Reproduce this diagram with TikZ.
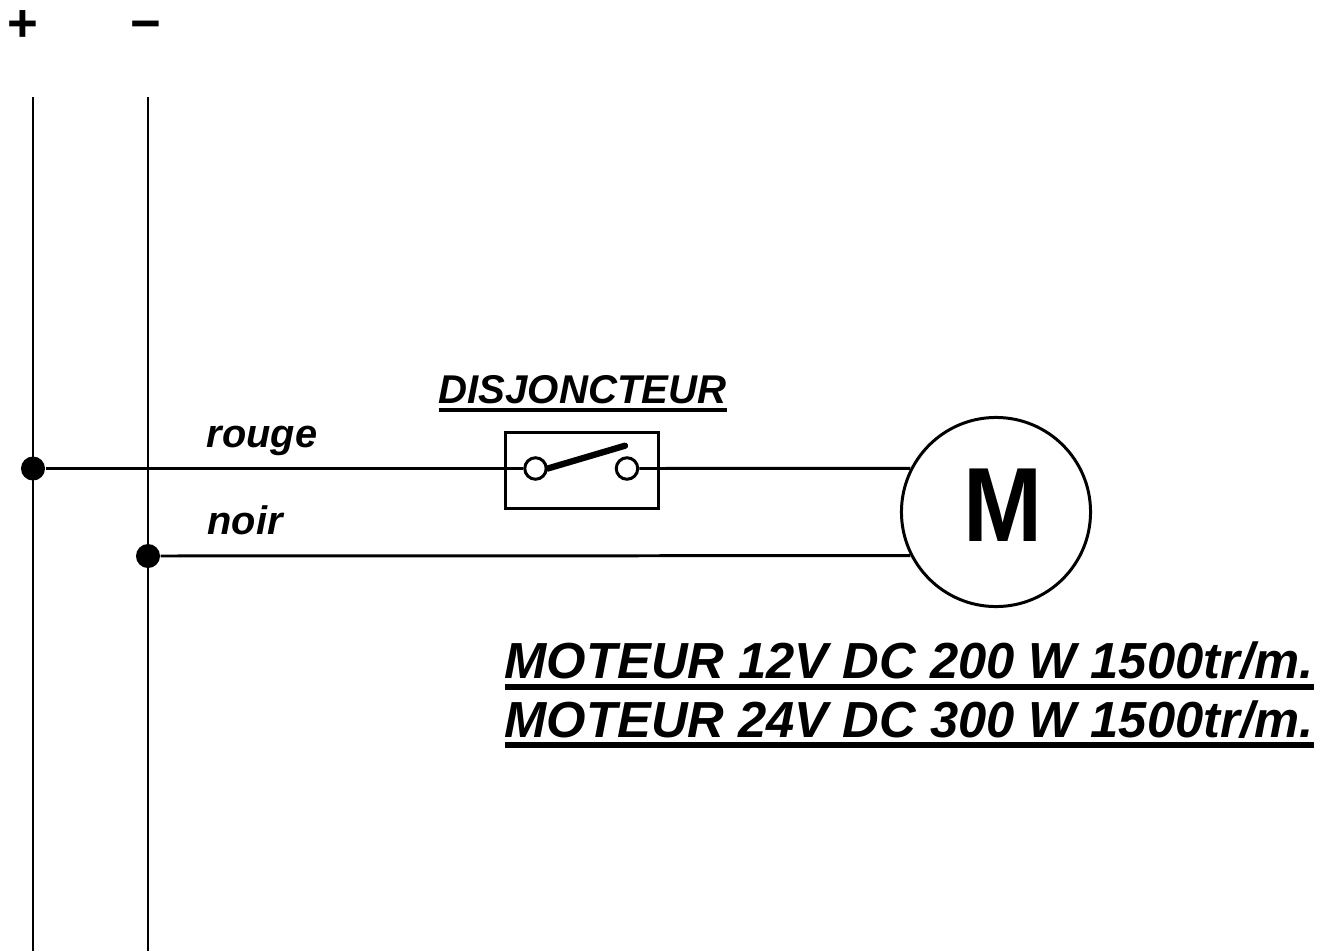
\documentclass[tikz,border=0pt]{standalone}
\usepackage{fontspec}
\setmainfont{Liberation Sans}
\usetikzlibrary{positioning,calc}
% underlined text: depth of rule, thickness of rule, text
\newcommand{\ultext}[3]{\setbox0\hbox{#3}\rlap{\copy0}\raisebox{-#1}{\rule{\wd0}{#2}}}
\tikzset{
    wire/.style={line width=0.85pt},
    junction/.style={circle, fill=black, inner sep=0pt, minimum size=0.24cm},
    terminal/.style={circle, draw, fill=white, line width=0.85pt, inner sep=0pt, minimum size=0.215cm},
    wirelabel/.style={anchor=base west, inner sep=0pt, font=\fontsize{11.3}{13}\selectfont\bfseries\itshape},
    ratinglabel/.style={anchor=base west, inner sep=0pt, font=\fontsize{14.42}{17}\selectfont\bfseries\itshape},
    polelabel/.style={anchor=base, inner sep=0pt, font=\fontsize{15}{18}\selectfont\bfseries}
}
\begin{document}
\begin{tikzpicture}[x=0.01cm, y=-0.01cm]
    \useasboundingbox (0,0) rectangle (1330,951);

    % Supply rails
    \node[polelabel] (plus) at (22.5,41.5) {+};
    \node[polelabel] (minus) at (145.5,41.5) {−};
    \coordinate (plustop) at (33,97);
    \coordinate (plusbottom) at (33,951);
    \coordinate (minustop) at (148,97);
    \coordinate (minusbottom) at (148,951);
    \draw[wire] (plustop) -- (plusbottom);
    \draw[wire] (minustop) -- (minusbottom);

    % Breaker
    \node[draw, wire, minimum width=1.535cm, minimum height=0.765cm, inner sep=0pt] (breaker) at (582,470.5) {};
    \node[terminal] (termin) at (535.5,468.5) {};
    \node[terminal] (termout) at (627,468.5) {};
    \coordinate (leverend) at (625,445.7);
    \draw[line width=1.8pt, line cap=round] (termin.east) -- (leverend);
    \node[wirelabel, font=\fontsize{11.42}{13}\selectfont\bfseries\itshape] (breakername) at (438,403.5) {\ultext{2.47pt}{1.33pt}{DISJONCTEUR}};

    % Motor
    \node[circle, draw, wire, inner sep=0pt, minimum size=1.89cm] (motor) at (996,512) {};
    \node[inner sep=0pt, font=\fontsize{30}{32}\selectfont\bfseries] (motorname) at (1003.5,505.5) {\scalebox{0.9}[1]{M}};

    % Wires
    \node[junction] (plusdot) at (33,468.5) {};
    \node[junction] (minusdot) at (148,556) {};
    \draw[wire] (plusdot) -- (termin);
    \draw[wire] (termout) -- (motor.153.06);
    \draw[wire] (minusdot) -- (motor.207.28);
    \node[wirelabel] (rouge) at (206,447) {rouge};
    \node[wirelabel] (noir) at (207,534) {noir};

    % Ratings
    \node[ratinglabel] (ratinga) at (504,678) {\ultext{3.4pt}{1.65pt}{MOTEUR 12V DC 200 W 1500tr/m.}};
    \node[ratinglabel] (ratingb) at (504,737) {\ultext{3pt}{1.65pt}{MOTEUR 24V DC 300 W 1500tr/m.}};
\end{tikzpicture}
\end{document}
